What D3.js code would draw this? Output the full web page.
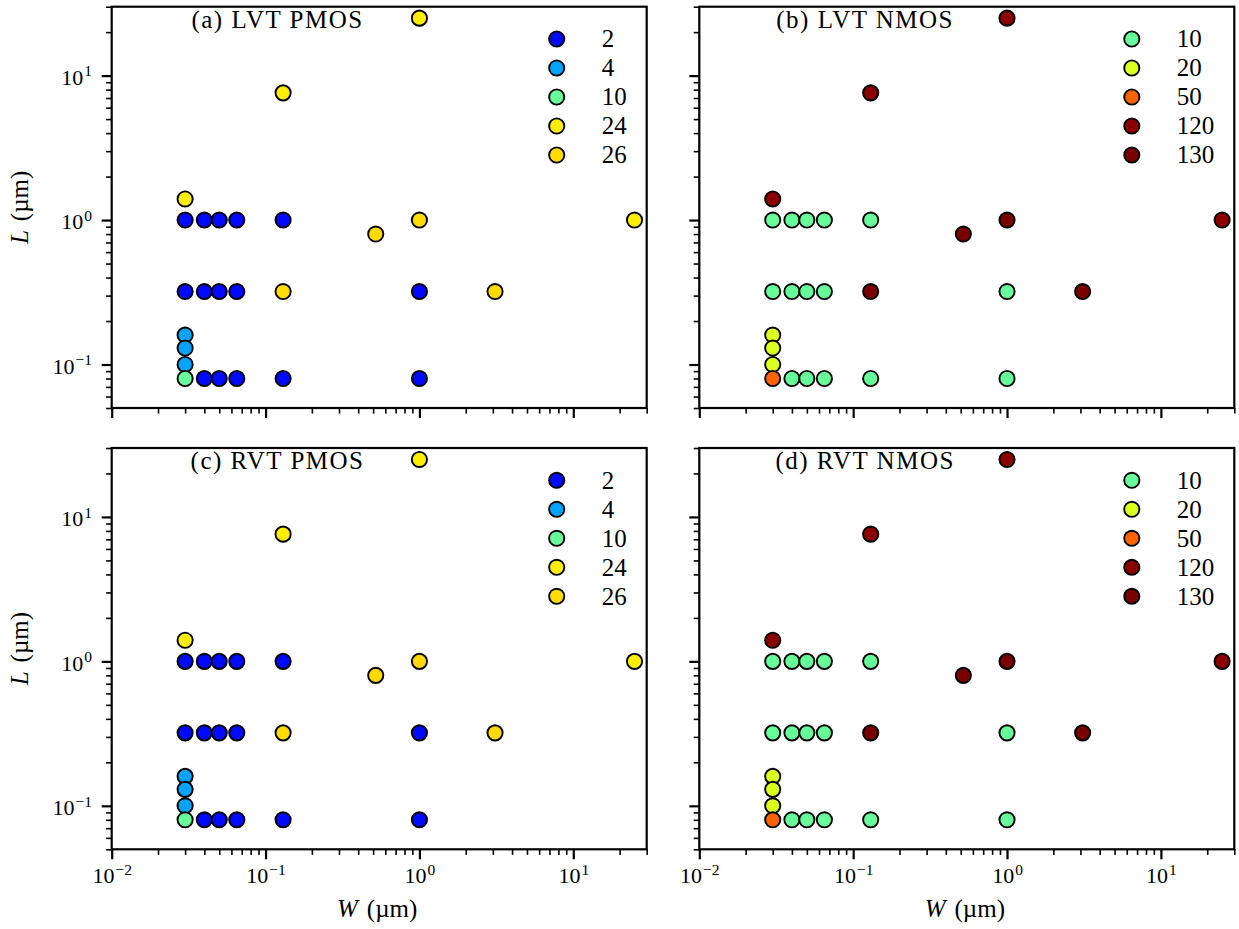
<!DOCTYPE html>
<html>
<head>
<meta charset="utf-8">
<script src="https://cdn.jsdelivr.net/npm/d3@7"></script>
<style>
  html, body { margin: 0; padding: 0; background: #fff; }
  svg { display: block; }
  text { font-family: "Liberation Serif", "Times New Roman", serif; fill: #000; }
</style>
</head>
<body>
<svg id="chart" width="1239" height="929"></svg>
<script>
// ---------------- data ----------------
const deviceW = [0.03, 0.03, 0.04, 0.05, 0.065, 0.13,
                 0.03, 0.04, 0.05, 0.065, 0.13,
                 0.03, 0.03, 0.03, 0.03,
                 0.04, 0.05, 0.065, 0.13,
                 0.13, 0.52, 1, 1, 1, 1, 3.1, 25];
const deviceL = [1.4, 1, 1, 1, 1, 1,
                 0.32, 0.32, 0.32, 0.32, 0.32,
                 0.16, 0.13, 0.10, 0.08,
                 0.08, 0.08, 0.08, 0.08,
                 7.6, 0.8, 25, 1, 0.32, 0.08, 0.32, 1];
// legend index for each device
const pmosSeries = [3, 0, 0, 0, 0, 0,
                    0, 0, 0, 0, 4,
                    1, 1, 1, 2,
                    0, 0, 0, 0,
                    3, 4, 3, 4, 0, 0, 4, 3];
const nmosSeries = [3, 0, 0, 0, 0, 0,
                    0, 0, 0, 0, 4,
                    1, 1, 1, 2,
                    0, 0, 0, 0,
                    3, 4, 3, 4, 0, 0, 4, 3];
const pmosLabels = ["2", "4", "10", "24", "26"];
const nmosLabels = ["10", "20", "50", "120", "130"];
const pmosColors = ["#0008ff", "#00a4ff", "#66ff99", "#ffee00", "#ffdb00"];
const nmosColors = ["#66ff99", "#dcff1e", "#ff6300", "#8b0000", "#780000"];
const panelTitles = ["(a) LVT PMOS", "(b) LVT NMOS", "(c) RVT PMOS", "(d) RVT NMOS"];
const xLimits = [0.01, 30];
const yLimits = [0.05, 30];
const xMajorTicks = [0.01, 0.1, 1, 10];
const yMajorTicks = [0.1, 1, 10];

// ---------------- layout ----------------
const svg = d3.select("#chart");
const W = 535, H = 401.3;
const lefts = [111.7, 699.3];
const tops = [6.7, 448];
const LW = 2.2;

const x = d3.scaleLog().domain(xLimits).range([0, W]);
const y = d3.scaleLog().domain(yLimits).range([H, 0]);

function minorTicks(lim) {
  const out = [];
  for (let e = -3; e <= 2; e++) {
    for (let m = 2; m <= 9; m++) {
      const v = +(m * Math.pow(10, e)).toPrecision(6);
      if (v >= lim[0] - 1e-12 && v <= lim[1] + 1e-9) out.push(v);
    }
  }
  return out;
}
function expOf(v) { return Math.round(Math.log10(v)); }
function supLabel(sel, v) {
  const e = expOf(v);
  sel.append("tspan").text("10");
  sel.append("tspan").attr("dy", -8.5).attr("dx", 1).attr("font-size", 15.5)
     .text(e < 0 ? "\u2212" + Math.abs(e) : String(e));
}
function unitLabel(t, sym) {
  t.append("tspan").attr("font-style", "italic").text(sym);
  t.append("tspan").attr("dx", 9).text("(\u00b5m)");
}

const panels = [
  {col: 0, row: 0, labels: pmosLabels, colors: pmosColors, series: pmosSeries},
  {col: 1, row: 0, labels: nmosLabels, colors: nmosColors, series: nmosSeries},
  {col: 0, row: 1, labels: pmosLabels, colors: pmosColors, series: pmosSeries},
  {col: 1, row: 1, labels: nmosLabels, colors: nmosColors, series: nmosSeries}
];

panels.forEach((p, i) => {
  const g = svg.append("g").attr("transform", `translate(${lefts[p.col]},${tops[p.row]})`);

  // minor ticks
  const xMinor = d3.axisBottom(x).tickValues(minorTicks(xLimits)).tickSize(5.6).tickFormat(() => "");
  const yMinor = d3.axisLeft(y).tickValues(minorTicks(yLimits)).tickSize(5.6).tickFormat(() => "");
  const gxm = g.append("g").attr("transform", `translate(0,${H})`).call(xMinor);
  const gym = g.append("g").call(yMinor);
  [gxm, gym].forEach(s => { s.select(".domain").remove(); s.selectAll("line").attr("stroke", "#000").attr("stroke-width", 1.6); });

  // major ticks
  const xMajor = d3.axisBottom(x).tickValues(xMajorTicks).tickSize(10).tickFormat(() => "");
  const yMajor = d3.axisLeft(y).tickValues(yMajorTicks).tickSize(10).tickFormat(() => "");
  const gx = g.append("g").attr("transform", `translate(0,${H})`).call(xMajor);
  const gy = g.append("g").call(yMajor);
  [gx, gy].forEach(s => { s.select(".domain").remove(); s.selectAll("line").attr("stroke", "#000").attr("stroke-width", LW); s.selectAll("text").remove(); });

  if (p.row === 1) {
    gx.selectAll(".tick").each(function(v) {
      const t = d3.select(this).append("text")
        .attr("x", 0).attr("y", 34).attr("text-anchor", "middle")
        .attr("font-size", 22);
      supLabel(t, v);
    });
    g.append("text").attr("x", W / 2 - 2).attr("y", 917 - tops[1]).attr("text-anchor", "middle")
      .attr("font-size", 25)
      .call(t => unitLabel(t, "W"));
  }
  if (p.col === 0) {
    gy.selectAll(".tick").each(function(v) {
      const t = d3.select(this).append("text")
        .attr("x", -19.7).attr("y", 8.7).attr("text-anchor", "end")
        .attr("font-size", 22);
      supLabel(t, v);
    });
    g.append("text").attr("transform", `translate(${28 - lefts[0]},${H / 2}) rotate(-90)`)
      .attr("text-anchor", "middle").attr("font-size", 25)
      .call(t => unitLabel(t, "L"));
  }

  // points, drawn series by series
  const plot = g.append("g");
  p.labels.forEach((lab, si) => {
    const idx = d3.range(deviceW.length).filter(k => p.series[k] === si);
    plot.selectAll(null).data(idx).enter().append("circle")
      .attr("cx", k => x(deviceW[k])).attr("cy", k => y(deviceL[k]))
      .attr("r", 7.6)
      .attr("fill", p.colors[si]).attr("stroke", "#000").attr("stroke-width", 1.9);
  });

  // spines
  g.append("rect").attr("x", 0).attr("y", 0).attr("width", W).attr("height", H)
    .attr("fill", "none").attr("stroke", "#000").attr("stroke-width", LW);

  // title
  g.append("text").attr("x", 0.31 * W).attr("y", 21.3).attr("text-anchor", "middle")
    .attr("font-size", 25).attr("letter-spacing", 1.5).text(panelTitles[i]);

  // legend
  const leg = g.append("g");
  const tmp = leg.append("text").attr("font-size", 25).text(p.labels.reduce((a, b) => b.length > a.length ? b : a));
  const maxW = tmp.node().getComputedTextLength();
  tmp.remove();
  const textX = W - 20 - maxW;
  p.labels.forEach((lab, si) => {
    const cy = 32.3 + si * 29;
    leg.append("circle").attr("cx", textX - 45).attr("cy", cy).attr("r", 7.6)
      .attr("fill", p.colors[si]).attr("stroke", "#000").attr("stroke-width", 1.9);
    leg.append("text").attr("x", textX).attr("y", cy + 8.5).attr("font-size", 25).text(lab);
  });
});
</script>
</body>
</html>
